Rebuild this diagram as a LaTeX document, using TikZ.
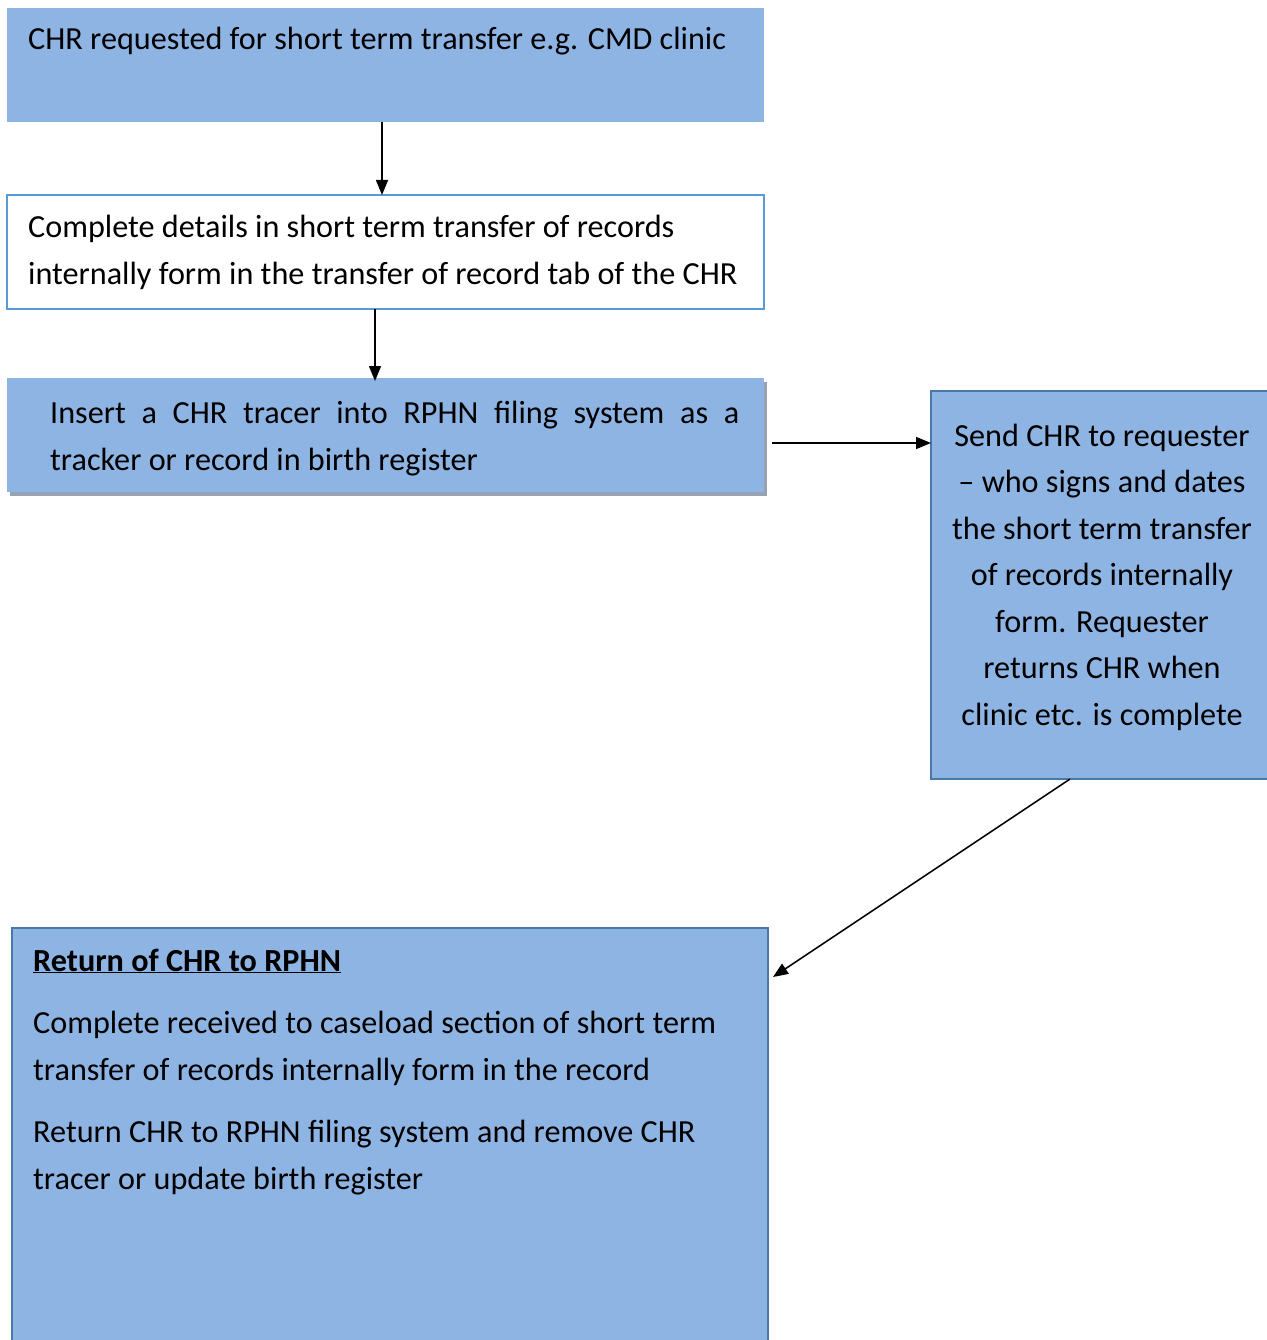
\documentclass[tikz,border=0pt]{standalone}
\usepackage{fontspec}
\setmainfont{Carlito}
\usetikzlibrary{arrows.meta}
\definecolor{boxblue}{HTML}{8EB4E3}
\definecolor{lineblue}{HTML}{5B9BD5}
\definecolor{darkblue}{HTML}{4A78A8}
\definecolor{shadowgray}{HTML}{98A2B3}
\begin{document}
\begin{tikzpicture}[x=1pt,y=-1pt,
  boxshape/.style={rectangle,inner sep=0pt,outer sep=0pt,anchor=north west},
  txt/.style={inner sep=0pt,font=\fontsize{32.2}{47}\selectfont,align=left,anchor=base west},
  conn/.style={line width=1.5pt,-{Triangle[length=15pt,width=12pt]}}]
\useasboundingbox (0,0) rectangle (1266,1340);
% box 1
\node[boxshape,fill=boxblue,minimum width=757pt,minimum height=114pt] (b1) at (7,8) {};
\node[txt] (t1) at (28,50) {CHR requested for short term transfer e.g. CMD clinic};
% box 2
\node[boxshape,fill=white,draw=lineblue,line width=2.5pt,minimum width=757pt,minimum height=114pt] (b2) at (7,195) {};
\node[txt] (t2) at (28,284) {Complete details in short term transfer of records\\internally form in the transfer of record tab of the CHR};
% box 3 with shadow
\node[boxshape,fill=shadowgray,minimum width=757pt,minimum height=114pt] (s3) at (10,382) {};
\node[boxshape,fill=boxblue,minimum width=757pt,minimum height=114pt] (b3) at (7,378) {};
\node[txt] (t3) at (50,470) {\makebox[689pt][s]{Insert a CHR tracer into RPHN filing system as a}\\tracker or record in birth register};
% box 4
\node[boxshape,fill=boxblue,draw=darkblue,line width=2.5pt,minimum width=345pt,minimum height=388pt] (b4) at (931,391) {};
\node[txt,align=center,anchor=base,font=\fontsize{32.2}{46.5}\selectfont] (t4) at (1102,725) {Send CHR to requester\\– who signs and dates\\the short term transfer\\of records internally\\form. Requester\\returns CHR when\\clinic etc. is complete};
% box 5
\node[boxshape,fill=boxblue,draw=darkblue,line width=2.5pt,minimum width=756pt,minimum height=440pt] (b5) at (12,928) {};
\node[txt] (t5a) at (33,971) {\textbf{\underline{Return of CHR to RPHN}}};
\node[txt] (t5b) at (33,1080) {Complete received to caseload section of short term\\transfer of records internally form in the record};
\node[txt] (t5c) at (33,1189) {Return CHR to RPHN filing system and remove CHR\\tracer or update birth register};
% connectors
\coordinate (a3s) at (772,443);
\coordinate (a5e) at (773,977);
\coordinate (a4s) at (1070,779);
\draw[conn] (b1.south -| 382,0) -- (b2.north -| 382,0);
\draw[conn] (b2.south -| 375,0) -- (375,381);
\draw[conn] (a3s) -- (a3s -| b4.west);
\draw[conn] (a4s) -- (a5e);
\end{tikzpicture}
\end{document}
